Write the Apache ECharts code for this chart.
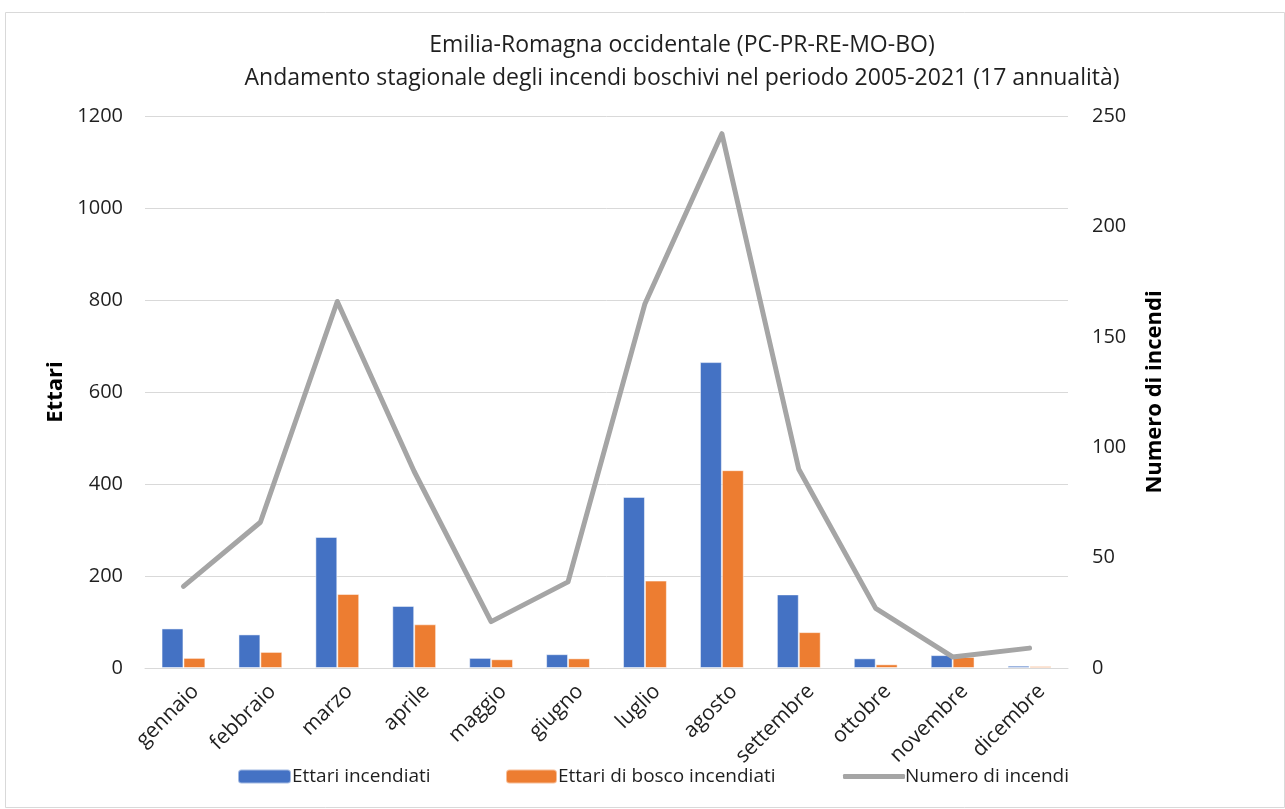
<!DOCTYPE html>
<html>
<head>
<meta charset="utf-8">
<script src="https://cdn.jsdelivr.net/npm/echarts@6/dist/echarts.min.js"></script>
<style>
html,body{margin:0;padding:0;background:#fff;}
#chart{width:1285px;height:809px;}
</style>
</head>
<body>
<div id="chart"></div>
<script>
const categories = ['gennaio','febbraio','marzo','aprile','maggio','giugno','luglio','agosto','settembre','ottobre','novembre','dicembre'];
const ettariIncendiati = [86, 73, 285, 135, 22, 30, 372, 665, 160, 21, 28, 5];
const ettariBosco = [22, 35, 161, 95, 19, 21, 190, 430, 78, 8, 24, 4];
const numeroIncendi = [37, 66, 166, 89, 21, 39, 165, 242, 90, 27, 5, 9];
const leftTicks = {min: 0, max: 1200, interval: 200};
const rightTicks = {min: 0, max: 250, interval: 50};

const FONT = 'Open Sans';
const TXT = '#1f1f1f';
const chart = echarts.init(document.getElementById('chart'));
chart.setOption({
  animation: false,
  backgroundColor: '#fff',
  textStyle: {fontFamily: FONT},
  graphic: [{
    type: 'rect', left: 3, top: 10,
    shape: {width: 1279, height: 795},
    style: {fill: 'none', stroke: '#D9D9D9', lineWidth: 1}
  }],
  title: {
    text: 'Emilia-Romagna occidentale (PC-PR-RE-MO-BO)\nAndamento stagionale degli incendi boschivi nel periodo 2005-2021 (17 annualità)',
    left: 677, top: 24, textAlign: 'center',
    textStyle: {fontFamily: FONT, fontSize: 23, fontWeight: 'normal', color: TXT, lineHeight: 33}
  },
  legend: [
    {data: ['Ettari incendiati'], left: 237, top: 767, padding: 0, itemWidth: 53, itemHeight: 14,
     textStyle: {fontFamily: FONT, fontSize: 19, color: TXT, padding: [0,0,0,-4]}},
    {data: ['Ettari di bosco incendiati'], left: 505, top: 767, padding: 0, itemWidth: 51, itemHeight: 14,
     textStyle: {fontFamily: FONT, fontSize: 19, color: TXT, padding: [0,0,0,-4]}},
    {data: [{name: 'Numero di incendi', icon: 'roundRect'}], left: 843, top: 767, padding: 0, itemWidth: 62, itemHeight: 5,
     textStyle: {fontFamily: FONT, fontSize: 19, color: TXT, padding: [0,0,0,-5]}}
  ],
  grid: {left: 145, right: 217, top: 116, bottom: 141},
  xAxis: {
    type: 'category', data: categories,
    axisLine: {lineStyle: {color: '#D9D9D9', width: 1}},
    axisTick: {show: false},
    axisLabel: {rotate: 45, interval: 0, margin: 8, verticalAlign: 'top', lineHeight: 34,
                fontFamily: FONT, fontSize: 21, color: TXT}
  },
  yAxis: [
    {type: 'value', min: leftTicks.min, max: leftTicks.max, interval: leftTicks.interval,
     name: 'Ettari', nameLocation: 'middle', nameGap: 64, nameRotate: 90,
     nameTextStyle: {fontFamily: FONT, fontSize: 22, fontWeight: 'bold', color: '#000'},
     axisLine: {show: false}, axisTick: {show: false},
     axisLabel: {margin: 22, fontFamily: FONT, fontSize: 20, color: TXT, formatter: v => String(v)},
     splitLine: {lineStyle: {color: '#D9D9D9', width: 1}}},
    {type: 'value', min: rightTicks.min, max: rightTicks.max, interval: rightTicks.interval,
     name: 'Numero di incendi', nameLocation: 'middle', nameGap: 76, nameRotate: 90,
     nameTextStyle: {fontFamily: FONT, fontSize: 22, fontWeight: 'bold', color: '#000'},
     axisLine: {show: false}, axisTick: {show: false},
     axisLabel: {margin: 24, fontFamily: FONT, fontSize: 20, color: TXT, formatter: v => String(v)},
     splitLine: {show: false}}
  ],
  series: [
    {name: 'Ettari incendiati', type: 'bar', data: ettariIncendiati, yAxisIndex: 0,
     barGap: '0%', barCategoryGap: '43%',
     itemStyle: {color: '#4472C4', borderColor: 'rgba(255,255,255,0.5)', borderWidth: 1}},
    {name: 'Ettari di bosco incendiati', type: 'bar', data: ettariBosco, yAxisIndex: 0,
     barGap: '0%', barCategoryGap: '43%',
     itemStyle: {color: '#ED7D31', borderColor: 'rgba(255,255,255,0.5)', borderWidth: 1}},
    {name: 'Numero di incendi', type: 'line', data: numeroIncendi, yAxisIndex: 1,
     symbol: 'none', lineStyle: {color: '#A5A5A5', width: 5, cap: 'round', join: 'round'},
     itemStyle: {color: '#A5A5A5'}, z: 5}
  ]
});
</script>
</body>
</html>
